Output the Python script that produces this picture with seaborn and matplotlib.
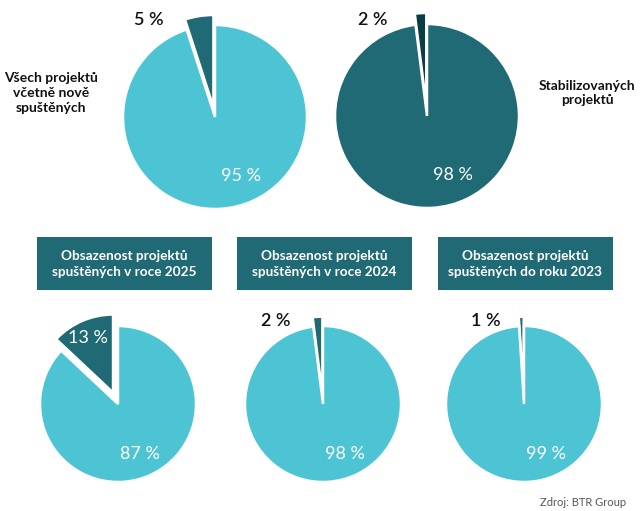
import matplotlib
matplotlib.use("Agg")
import matplotlib.pyplot as plt
import seaborn as sns

sns.set_theme(style="white")
plt.rcParams["font.family"] = ["Lato", "DejaVu Sans"]

# data
labels_small = ["5 %", "2 %", "13 %", "2 %", "1 %"]
labels_big = ["95 %", "98 %", "87 %", "98 %", "99 %"]
small_share = [5, 2, 13, 2, 1]
big_share = [95, 98, 87, 98, 99]
side_titles = ["Všech projektů\nvčetně nově\nspuštěných", "Stabilizovaných\nprojektů"]
box_titles = [
    "Obsazenost projektů\nspuštěných v roce 2025",
    "Obsazenost projektů\nspuštěných v roce 2024",
    "Obsazenost projektů\nspuštěných do roku 2023",
]
source = "Zdroj: BTR Group"

light = "#4cc4d4"
teal = "#1f6a74"
dark = "#0b3d45"

W, H = 640, 511
fig = plt.figure(figsize=(6.4, 5.11), dpi=100)

# pie layout (pixel centre x, y from top, radius)
centres = [(215, 117, 92), (427, 116, 92), (118, 404, 78), (323, 404, 78), (524, 404, 78)]
big_colors = [light, teal, light, light, light]
small_colors = [teal, dark, teal, teal, teal]
explode_amt = [0.11, 0.12, 0.16, 0.12, 0.12]
small_pos = [(-0.72, 1.05), (-0.59, 1.04), (-0.38, 0.85), (-0.60, 1.06), (-0.49, 1.06)]
small_col = ["#111111", "#111111", "white", "#111111", "#111111"]
s = 1.35

for i, (cx, cy, r) in enumerate(centres):
    side = 2 * s * r
    ax = fig.add_axes([(cx - s * r) / W, 1 - (cy + s * r) / H, side / W, side / H])
    ax.pie(
        [small_share[i], big_share[i]],
        colors=[small_colors[i], big_colors[i]],
        startangle=90,
        counterclock=True,
        explode=[explode_amt[i], 0],
        wedgeprops=dict(edgecolor="white", linewidth=1.8),
    )
    ax.set_xlim(-s, s)
    ax.set_ylim(-s, s)
    ax.set_aspect("equal")
    ax.axis("off")
    ax.text(0.28, -0.64, labels_big[i], color="white", fontsize=13,
            ha="center", va="center")
    ax.text(small_pos[i][0], small_pos[i][1], labels_small[i], color=small_col[i],
            fontsize=13, fontweight="semibold" if small_col[i] != "white" else "normal",
            ha="center", va="center")

# side captions
fig.text(51 / W, 1 - 93 / H, side_titles[0], ha="center", va="center",
         fontsize=10, fontweight="bold", color="#111111", linespacing=1.25)
fig.text(587 / W, 1 - 93 / H, side_titles[1], ha="center", va="center",
         fontsize=10, fontweight="bold", color="#111111", linespacing=1.25)

# title boxes
box_x = [37, 237, 438]
for bx, title in zip(box_x, box_titles):
    bax = fig.add_axes([bx / W, 1 - 290 / H, 175 / W, 53 / H])
    bax.set_facecolor(teal)
    bax.set_xticks([])
    bax.set_yticks([])
    for sp in bax.spines.values():
        sp.set_visible(False)
    bax.text(0.5, 0.5, title, ha="center", va="center", color="white",
             fontsize=9.8, fontweight="bold", linespacing=1.4, transform=bax.transAxes)

fig.text(626 / W, 1 - 502 / H, source, ha="right", va="center",
         fontsize=8, color="#555555")

fig.savefig("out.png", dpi=100)
